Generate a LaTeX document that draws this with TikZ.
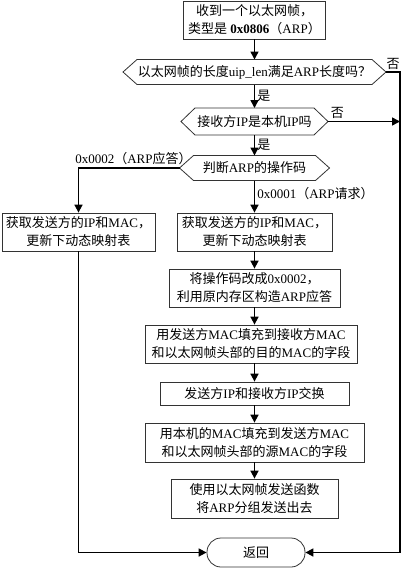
\documentclass[tikz,border=0pt]{standalone}
\usepackage{fontspec}
\setmainfont{Liberation Serif}
\newfontfamily\cjkfont{Noto Sans CJK SC}
\XeTeXinterchartokenstate=1
\newXeTeXintercharclass\cjkclass
\newcount\cjkcnt
\cjkcnt="4E00
\loop\XeTeXcharclass\cjkcnt=\cjkclass\advance\cjkcnt by 1 \ifnum\cjkcnt<"A000 \repeat
\cjkcnt="3000
\loop\XeTeXcharclass\cjkcnt=\cjkclass\advance\cjkcnt by 1 \ifnum\cjkcnt<"3040 \repeat
\cjkcnt="FF00
\loop\XeTeXcharclass\cjkcnt=\cjkclass\advance\cjkcnt by 1 \ifnum\cjkcnt<"FF60 \repeat
\XeTeXinterchartoks 0 \cjkclass = {\cjkfont}
\XeTeXinterchartoks 4095 \cjkclass = {\cjkfont}
\XeTeXinterchartoks \cjkclass 0 = {\rmfamily}
\XeTeXinterchartoks \cjkclass 4095 = {\rmfamily}
\usepackage{tikz}
\usetikzlibrary{arrows.meta}

\begin{document}
\begin{tikzpicture}[x=1pt,y=-1pt,font=\fontsize{13}{18}\selectfont,
	stepbox/.style={draw=black!80, line width=0.8pt, align=center, inner sep=2pt},
	choice/.style={align=center, inner sep=0pt, outer sep=0pt, minimum height=25},
	flow/.style={-{Triangle[length=8pt,width=8pt]}, line width=1.6pt},
	lbl/.style={inner sep=2pt}]
	\useasboundingbox (0,0) rectangle (412,568);
	\node[stepbox, minimum width=142, minimum height=38] (recv) at (254.5,20) {收到一个以太网帧，\\类型是 \textbf{0x0806}（ARP）};
	\node[choice, minimum width=263] (lenchk) at (254.5,72) {以太网帧的长度uip\_len满足ARP长度吗？};
	\node[choice, minimum width=147, minimum height=27] (ipchk) at (254.5,121.5) {接收方IP是本机IP吗};
	\node[choice, minimum width=150] (opchk) at (254.5,168) {判断ARP的操作码};
	\node[stepbox, minimum width=153, minimum height=38] (updA) at (78.5,232) {获取发送方的IP和MAC，\\更新下动态映射表};
	\node[stepbox, minimum width=155, minimum height=38] (updB) at (254.5,232) {获取发送方的IP和MAC，\\更新下动态映射表};
	\node[stepbox, minimum width=171, minimum height=38] (setop) at (254.5,288) {将操作码改成0x0002，\\利用原内存区构造ARP应答};
	\node[stepbox, minimum width=212, minimum height=38] (filldst) at (251,344) {用发送方MAC填充到接收方MAC\\和以太网帧头部的目的MAC的字段};
	\node[stepbox, minimum width=189, minimum height=23] (swapip) at (254.5,393.5) {发送方IP和接收方IP交换};
	\node[stepbox, minimum width=219, minimum height=39] (fillsrc) at (254.5,442.5) {用本机的MAC填充到发送方MAC\\和以太网帧头部的源MAC的字段};
	\node[stepbox, minimum width=167, minimum height=39] (send) at (254.5,498.5) {使用以太网帧发送函数\\将ARP分组发送出去};
	\node[stepbox, rounded corners=14pt, minimum width=98, minimum height=29] (ret) at (256,552.5) {返回};
	\coordinate (rcol) at (400,72);
	\foreach \d in {lenchk,ipchk,opchk}
		\draw[draw=black!80, line width=0.8pt] (\d.west) -- ([xshift=14pt]\d.north west) -- ([xshift=-14pt]\d.north east) -- (\d.east) -- ([xshift=-14pt]\d.south east) -- ([xshift=14pt]\d.south west) -- cycle;
	\draw[flow] (recv.south) -- (lenchk.north);
	\draw[flow] (lenchk.south) -- node[lbl, right]{是} (ipchk.north);
	\draw[flow] (ipchk.south) -- node[lbl, right]{是} (opchk.north);
	\draw[flow] (opchk.south) -- node[lbl, right, pos=0.4]{0x0001（ARP请求）} (updB.north);
	\draw[flow] (updB.south) -- (setop.north);
	\draw[flow] (setop.south) -- (setop.south |- filldst.north);
	\draw[flow] (filldst.south -| swapip.north) -- (swapip.north);
	\draw[flow] (swapip.south) -- (fillsrc.north);
	\draw[flow] (fillsrc.south) -- (send.north);
	\draw[flow] (opchk.west) -| node[lbl, pos=0.5, anchor=south west, xshift=-6pt]{0x0002（ARP应答）} (updA.north);
	\draw[flow] (updA.south) |- (ret.west);
	\draw[flow] (lenchk.east) -- node[lbl, above]{否} (rcol) |- (ret.east);
	\draw[flow] (ipchk.east) -- node[lbl, above, pos=0.13]{否} (ipchk.east -| rcol);
\end{tikzpicture}
\end{document}
